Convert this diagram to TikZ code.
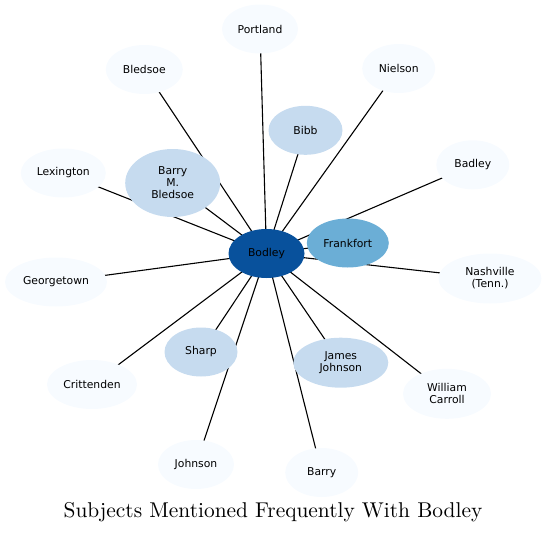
\documentclass[tikz,border=0pt]{standalone}
\usepackage{fontspec}
\newfontfamily\labelfont{DejaVu Sans}
\newfontfamily\titlefont{lmroman10-regular}[Extension=.otf]
\usepackage{tikz}
\usetikzlibrary{shapes.geometric,backgrounds}
\definecolor{bluepale}{RGB}{247,251,255}
\definecolor{bluelight}{RGB}{198,219,239}
\definecolor{bluemid}{RGB}{107,174,214}
\definecolor{bluedeep}{RGB}{8,81,156}
\tikzset{
  ent/.style={ellipse,draw=none,fill=bluepale,inner sep=0pt,align=center,
              font=\labelfont\fontsize{10.8}{12}\selectfont,
              minimum height=49,minimum width=76},
  entl/.style={ent,fill=bluelight},
  entm/.style={ent,fill=bluemid},
  entc/.style={ent,fill=bluedeep},
  link/.style={draw=black,line width=1.1pt},
  ttl/.style={font=\titlefont\fontsize{21.4}{26}\selectfont,inner sep=0pt,anchor=base},
}
\begin{document}
\begin{tikzpicture}[x=1pt,y=-1pt]
  \useasboundingbox (0,0) rectangle (546,533);

  \node[entc] (bodley)     at (266.5,253.5) {Bodley};
  \node[entm,minimum width=82] (frankfort) at (347.8,243) {Frankfort};

  \node[ent]  (portland)   at (260,29)      {Portland};
  \node[ent,minimum width=77]  (bledsoe)  at (144.3,69.5) {Bledsoe};
  \node[ent,minimum width=73]  (nielson)  at (398.7,68.5) {Nielson};
  \node[entl,minimum width=74] (bibb)     at (305.5,130.3) {Bibb};
  \node[ent,minimum width=73]  (badley)   at (472.8,164.8) {Badley};
  \node[ent,minimum width=85]  (lexington) at (63.3,173)  {Lexington};
  \node[entl,minimum width=95,minimum height=68] (barrymb) at (172.7,183)
    {Barry\\M.\\Bledsoe};
  \node[ent,minimum width=102] (georgetown) at (56,282)   {Georgetown};
  \node[ent,minimum width=103,minimum height=50] (nashville) at (490,278.5)
    {Nashville\\(Tenn.)};
  \node[entl,minimum width=73] (sharp)    at (201,352)    {Sharp};
  \node[entl,minimum width=95,minimum height=50] (jamesj) at (340.8,362.7)
    {James\\Johnson};
  \node[ent,minimum width=90]  (crittenden) at (92,384.5) {Crittenden};
  \node[ent,minimum width=88,minimum height=50] (wcarroll) at (447,393.8)
    {William\\Carroll};
  \node[ent]  (johnson)    at (196,464.5)   {Johnson};
  \node[ent,minimum width=73]  (barry)    at (321.7,472.5) {Barry};

  % spokes from the centre, under the ellipses
  \begin{scope}[on background layer]
    \foreach \n in {portland,bledsoe,nielson,bibb,badley,lexington,barrymb,
                    frankfort,georgetown,nashville,sharp,jamesj,crittenden,
                    wcarroll,johnson,barry}
      \draw[link] (bodley.center) -- (\n.center);
  \end{scope}

  \node[ttl] (title) at (273,517) {Subjects Mentioned Frequently With Bodley};
\end{tikzpicture}
\end{document}
